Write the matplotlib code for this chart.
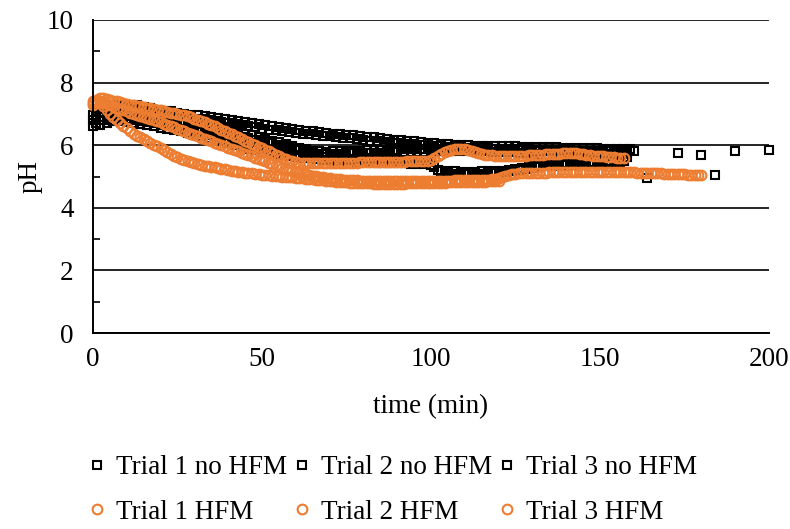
"""pH over time with and without HFM, three trials each."""

import matplotlib

matplotlib.use("Agg")
import matplotlib.pyplot as plt
from matplotlib.ticker import MultipleLocator


# time axis (min): logger sampled once a minute, plus a few late readings
t_nohfm_1 = list(range(0, 161)) + [173, 180, 190, 200]
t_nohfm_2 = list(range(0, 158)) + [164, 184]
t_nohfm_3 = list(range(0, 159))
t_hfm_1 = list(range(0, 158))
t_hfm_2 = list(range(0, 181))
t_hfm_3 = list(range(0, 121))

ph_nohfm_1 = [
    6.95, 7.08, 7.02, 7.18, 7.12, 7.26, 7.16, 7.28, 7.20, 7.30,
    7.22, 7.30, 7.18, 7.27, 7.14, 7.22, 7.10, 7.19, 7.05, 7.14,
    7.02, 7.10, 6.98, 7.08, 6.95, 7.04, 6.92, 7.00, 6.88, 6.98,
    6.85, 6.95, 6.83, 6.92, 6.80, 6.90, 6.77, 6.87, 6.74, 6.84,
    6.70, 6.80, 6.68, 6.77, 6.64, 6.74, 6.60, 6.70, 6.57, 6.67,
    6.53, 6.63, 6.50, 6.60, 6.47, 6.57, 6.44, 6.54, 6.42, 6.51,
    6.39, 6.49, 6.37, 6.46, 6.35, 6.44, 6.32, 6.42, 6.30, 6.40,
    6.28, 6.37, 6.26, 6.35, 6.24, 6.33, 6.22, 6.31, 6.20, 6.29,
    6.18, 6.27, 6.15, 6.25, 6.13, 6.22, 6.11, 6.20, 6.09, 6.18,
    6.07, 6.16, 6.05, 6.14, 6.03, 6.12, 6.01, 6.10, 6.00, 6.08,
    5.98, 6.06, 5.96, 6.04, 5.95, 6.03, 5.94, 6.02, 5.93, 6.01,
    5.92, 6.00, 5.91, 5.99, 5.90, 5.98, 5.90, 5.98, 5.89, 5.97,
    5.89, 5.97, 5.88, 5.96, 5.88, 5.96, 5.87, 5.95, 5.87, 5.95,
    5.86, 5.94, 5.86, 5.94, 5.85, 5.93, 5.85, 5.93, 5.84, 5.92,
    5.84, 5.92, 5.83, 5.91, 5.83, 5.91, 5.82, 5.90, 5.82, 5.90,
    5.81, 5.89, 5.81, 5.89, 5.80, 5.88, 5.80, 5.88, 5.79, 5.87, 5.80,
    5.75, 5.70, 5.80, 5.85,
]

ph_nohfm_2 = [
    6.60, 6.72, 6.66, 6.80, 6.72, 6.86, 6.76, 6.88, 6.78, 6.86,
    6.74, 6.84, 6.72, 6.80, 6.68, 6.78, 6.64, 6.74, 6.60, 6.70,
    6.56, 6.66, 6.52, 6.62, 6.48, 6.58, 6.44, 6.53, 6.39, 6.48,
    6.34, 6.43, 6.29, 6.38, 6.24, 6.33, 6.19, 6.27, 6.13, 6.22,
    6.07, 6.16, 6.01, 6.10, 5.95, 6.04, 5.89, 5.98, 5.84, 5.92,
    5.79, 5.87, 5.75, 5.82, 5.71, 5.78, 5.68, 5.75, 5.65, 5.72,
    5.62, 5.70, 5.60, 5.68, 5.58, 5.66, 5.56, 5.64, 5.54, 5.62,
    5.52, 5.60, 5.51, 5.58, 5.49, 5.57, 5.48, 5.56, 5.47, 5.55,
    5.46, 5.54, 5.45, 5.53, 5.44, 5.52, 5.43, 5.51, 5.43, 5.50,
    5.42, 5.50, 5.42, 5.49, 5.41, 5.49, 5.41, 5.48, 5.40, 5.47,
    5.36, 5.30, 5.20, 5.16, 5.10, 5.16, 5.09, 5.16, 5.08, 5.15,
    5.08, 5.15, 5.08, 5.15, 5.09, 5.16, 5.09, 5.17, 5.10, 5.18,
    5.11, 5.19, 5.13, 5.21, 5.16, 5.24, 5.20, 5.28, 5.24, 5.32,
    5.28, 5.36, 5.31, 5.38, 5.33, 5.40, 5.35, 5.42, 5.36, 5.43,
    5.37, 5.44, 5.38, 5.45, 5.39, 5.46, 5.40, 5.47, 5.41, 5.48,
    5.42, 5.48, 5.43, 5.49, 5.43, 5.50, 5.44, 5.50,
    4.95, 5.05,
]

ph_nohfm_3 = [
    6.80, 6.92, 6.90, 7.05, 6.98, 7.08, 6.98, 7.08, 6.96, 7.06,
    6.94, 7.03, 6.92, 7.00, 6.88, 6.98, 6.86, 6.95, 6.83, 6.92,
    6.80, 6.89, 6.77, 6.86, 6.72, 6.82, 6.68, 6.78, 6.64, 6.74,
    6.60, 6.70, 6.56, 6.66, 6.51, 6.62, 6.47, 6.57, 6.42, 6.52,
    6.37, 6.47, 6.32, 6.42, 6.27, 6.37, 6.22, 6.32, 6.17, 6.26,
    6.12, 6.20, 6.07, 6.15, 6.02, 6.10, 5.97, 6.04, 5.91, 5.98,
    5.85, 5.92, 5.80, 5.87, 5.75, 5.83, 5.72, 5.80, 5.71, 5.79,
    5.71, 5.80, 5.72, 5.81, 5.73, 5.82, 5.74, 5.83, 5.74, 5.83,
    5.75, 5.84, 5.75, 5.85, 5.76, 5.85, 5.76, 5.86, 5.77, 5.86,
    5.77, 5.87, 5.78, 5.87, 5.78, 5.88, 5.79, 5.88, 5.79, 5.89,
    5.80, 5.89, 5.80, 5.89, 5.80, 5.90, 5.81, 5.90, 5.81, 5.90,
    5.81, 5.90, 5.81, 5.89, 5.80, 5.89, 5.80, 5.88, 5.79, 5.88,
    5.78, 5.87, 5.78, 5.86, 5.77, 5.86, 5.76, 5.85, 5.75, 5.84,
    5.74, 5.83, 5.73, 5.82, 5.72, 5.81, 5.71, 5.80, 5.70, 5.79,
    5.69, 5.78, 5.68, 5.77, 5.67, 5.76, 5.66, 5.75, 5.66, 5.74,
    5.65, 5.74, 5.65, 5.73, 5.64, 5.72, 5.63, 5.72, 5.62,
]

ph_hfm_1 = [
    7.35, 7.45, 7.52, 7.52, 7.48, 7.45, 7.42, 7.40, 7.38, 7.35,
    7.32, 7.30, 7.28, 7.26, 7.24, 7.22, 7.20, 7.18, 7.16, 7.13,
    7.11, 7.09, 7.07, 7.04, 7.02, 7.00, 6.98, 6.95, 6.92, 6.89,
    6.85, 6.81, 6.77, 6.73, 6.69, 6.65, 6.60, 6.55, 6.50, 6.45,
    6.40, 6.35, 6.30, 6.25, 6.20, 6.15, 6.10, 6.05, 6.00, 5.95,
    5.90, 5.85, 5.80, 5.75, 5.70, 5.65, 5.60, 5.55, 5.51, 5.48,
    5.46, 5.44, 5.43, 5.42, 5.42, 5.42, 5.42, 5.42, 5.42, 5.43,
    5.43, 5.43, 5.43, 5.43, 5.44, 5.44, 5.44, 5.44, 5.44, 5.45,
    5.45, 5.45, 5.45, 5.45, 5.46, 5.46, 5.46, 5.46, 5.46, 5.47,
    5.47, 5.47, 5.47, 5.48, 5.48, 5.48, 5.49, 5.49, 5.50, 5.50,
    5.52, 5.58, 5.65, 5.72, 5.78, 5.82, 5.85, 5.87, 5.88, 5.88,
    5.87, 5.85, 5.82, 5.78, 5.75, 5.72, 5.70, 5.69, 5.68, 5.67,
    5.66, 5.66, 5.65, 5.65, 5.65, 5.66, 5.66, 5.67, 5.67, 5.68,
    5.68, 5.69, 5.70, 5.70, 5.71, 5.71, 5.72, 5.73, 5.73, 5.74,
    5.74, 5.75, 5.75, 5.74, 5.73, 5.72, 5.70, 5.68, 5.67, 5.66,
    5.65, 5.64, 5.63, 5.62, 5.61, 5.60, 5.60, 5.59,
]

ph_hfm_2 = [
    7.40, 7.42, 7.40, 7.36, 7.32, 7.28, 7.24, 7.20, 7.16, 7.12,
    7.08, 7.04, 7.00, 6.97, 6.94, 6.91, 6.88, 6.85, 6.81, 6.77,
    6.73, 6.69, 6.65, 6.61, 6.57, 6.53, 6.48, 6.44, 6.40, 6.36,
    6.32, 6.28, 6.24, 6.20, 6.16, 6.12, 6.08, 6.04, 6.00, 5.96,
    5.92, 5.88, 5.84, 5.80, 5.76, 5.72, 5.68, 5.64, 5.60, 5.56,
    5.52, 5.48, 5.44, 5.40, 5.36, 5.32, 5.28, 5.24, 5.21, 5.18,
    5.15, 5.12, 5.10, 5.07, 5.05, 5.03, 5.01, 4.99, 4.97, 4.96,
    4.94, 4.93, 4.92, 4.91, 4.90, 4.89, 4.89, 4.88, 4.88, 4.87,
    4.87, 4.87, 4.86, 4.86, 4.86, 4.86, 4.85, 4.85, 4.85, 4.85,
    4.85, 4.85, 4.85, 4.85, 4.85, 4.86, 4.86, 4.86, 4.86, 4.86,
    4.86, 4.86, 4.87, 4.87, 4.87, 4.87, 4.87, 4.88, 4.88, 4.88,
    4.88, 4.88, 4.88, 4.89, 4.89, 4.89, 4.90, 4.90, 4.91, 4.92,
    4.95, 4.99, 5.03, 5.06, 5.08, 5.09, 5.10, 5.10, 5.11, 5.11,
    5.11, 5.12, 5.12, 5.12, 5.12, 5.13, 5.13, 5.13, 5.13, 5.14,
    5.14, 5.14, 5.14, 5.15, 5.15, 5.15, 5.15, 5.15, 5.15, 5.15,
    5.15, 5.15, 5.15, 5.15, 5.14, 5.14, 5.14, 5.14, 5.13, 5.13,
    5.13, 5.12, 5.12, 5.12, 5.11, 5.11, 5.10, 5.10, 5.10, 5.09,
    5.09, 5.08, 5.08, 5.08, 5.07, 5.07, 5.06, 5.06, 5.06, 5.05, 5.05,
]

ph_hfm_3 = [
    7.30, 7.38, 7.34, 7.25, 7.12, 7.00, 6.90, 6.80, 6.70, 6.62,
    6.55, 6.45, 6.37, 6.30, 6.25, 6.20, 6.14, 6.07, 6.02, 5.96,
    5.90, 5.84, 5.78, 5.72, 5.67, 5.62, 5.57, 5.53, 5.49, 5.45,
    5.42, 5.39, 5.37, 5.35, 5.33, 5.31, 5.29, 5.27, 5.25, 5.23,
    5.21, 5.19, 5.17, 5.15, 5.14, 5.12, 5.11, 5.10, 5.08, 5.07,
    5.06, 5.05, 5.04, 5.03, 5.02, 5.01, 5.00, 4.99, 4.98, 4.97,
    4.96, 4.95, 4.94, 4.93, 4.92, 4.91, 4.90, 4.89, 4.88, 4.87,
    4.86, 4.85, 4.84, 4.83, 4.82, 4.81, 4.80, 4.80, 4.79, 4.79,
    4.78, 4.78, 4.78, 4.77, 4.77, 4.77, 4.77, 4.77, 4.77, 4.77,
    4.77, 4.77, 4.77, 4.78, 4.78, 4.78, 4.78, 4.78, 4.79, 4.79,
    4.79, 4.79, 4.80, 4.80, 4.80, 4.81, 4.81, 4.81, 4.82, 4.82,
    4.82, 4.83, 4.83, 4.83, 4.84, 4.84, 4.84, 4.85, 4.85, 4.85, 4.86,
]

labels_nohfm = ["Trial 1 no HFM", "Trial 2 no HFM", "Trial 3 no HFM"]
labels_hfm = ["Trial 1 HFM", "Trial 2 HFM", "Trial 3 HFM"]

BLACK = "black"
ORANGE = "#ED7D31"

plt.rcParams["font.family"] = ["Liberation Serif", "DejaVu Serif"]
plt.rcParams["font.size"] = 19.5

fig, ax = plt.subplots(figsize=(7.9, 5.29), dpi=100)
fig.subplots_adjust(left=0.1177, right=0.9734, bottom=0.3705, top=0.9622)

sq = dict(linestyle="none", marker="s", markersize=5.5, markerfacecolor="none",
          markeredgecolor=BLACK, markeredgewidth=1.5)
ci = dict(linestyle="none", marker="o", markersize=7, markerfacecolor="none",
          markeredgecolor=ORANGE, markeredgewidth=1.5)

h_b = []
for t, ph, lab in zip([t_nohfm_1, t_nohfm_2, t_nohfm_3],
                      [ph_nohfm_1, ph_nohfm_2, ph_nohfm_3], labels_nohfm):
    h_b.append(ax.plot(t, ph, label=lab, clip_on=False, **sq)[0])
h_o = []
for t, ph, lab in zip([t_hfm_1, t_hfm_2, t_hfm_3],
                      [ph_hfm_1, ph_hfm_2, ph_hfm_3], labels_hfm):
    h_o.append(ax.plot(t, ph, label=lab, clip_on=False, **ci)[0])

ax.set_xlim(0, 200)
ax.set_ylim(0, 10)
ax.xaxis.set_major_locator(MultipleLocator(50))
ax.yaxis.set_major_locator(MultipleLocator(2))
ax.yaxis.set_minor_locator(MultipleLocator(1))
ax.yaxis.grid(True, which="major", color="black", linewidth=1.2)
ax.set_axisbelow(True)

for side in ["top", "right"]:
    ax.spines[side].set_visible(False)
for side in ["left", "bottom"]:
    ax.spines[side].set_linewidth(1.4)

ax.tick_params(axis="x", length=0, pad=10)
ax.tick_params(axis="y", which="major", length=0, pad=14)
ax.tick_params(axis="y", which="minor", direction="in", length=5, width=1.2)

ax.set_xlabel("time (min)", labelpad=16)
ax.set_ylabel("pH", labelpad=3)

# column-major fill: pair each no-HFM trial with its HFM trial
handles = [h_b[0], h_o[0], h_b[1], h_o[1], h_b[2], h_o[2]]
fig.legend(handles=handles, labels=[h.get_label() for h in handles],
           loc="upper center", bbox_to_anchor=(0.497, 0.139), ncol=3,
           frameon=False, handlelength=0.6, handletextpad=0.4,
           columnspacing=0.25, labelspacing=0.72, borderaxespad=0, borderpad=0)

fig.savefig("out.png", dpi=100)
plt.close(fig)
